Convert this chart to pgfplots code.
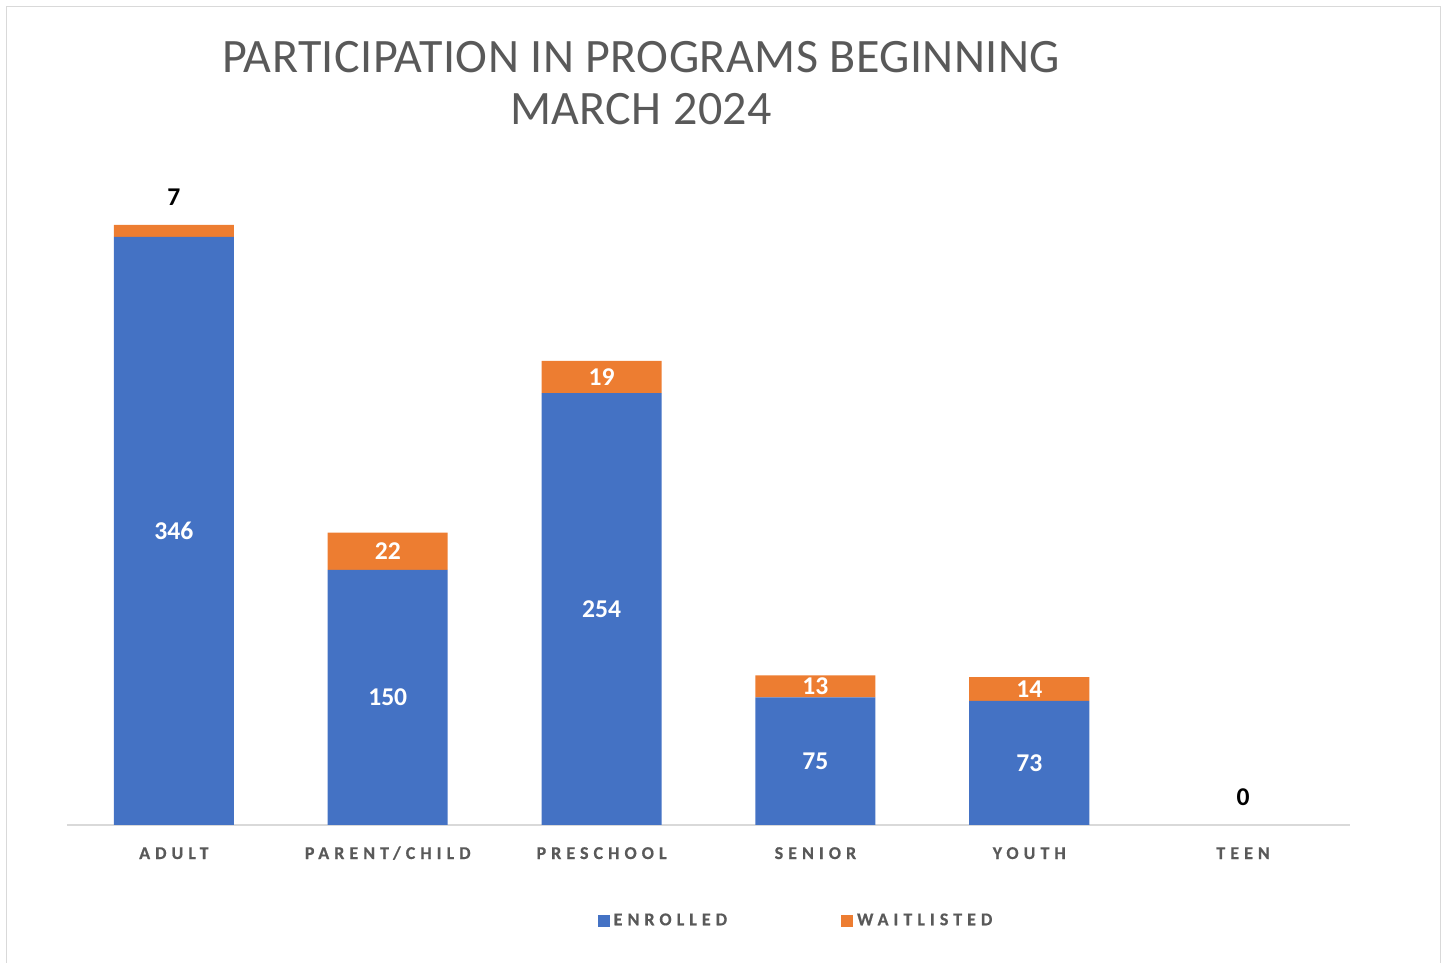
\documentclass[border=0pt]{standalone}
\usepackage{fontspec}
\setmainfont{Carlito}
\newfontfamily\spacedfont[LetterSpace=28, FakeBold=0.6]{Carlito Bold}
\newfontfamily\titlefont[LetterSpace=1]{Carlito}
\usepackage{pgfplots}
\usepackage{pgfplotstable}
\pgfplotsset{compat=1.18}

\definecolor{enrolled}{HTML}{4472C4}
\definecolor{waitlisted}{HTML}{ED7D31}
\definecolor{txtgrey}{HTML}{595959}
\definecolor{linegrey}{HTML}{D9D9D9}

% program, enrolled, waitlisted
\pgfplotstableread{
x enrolled waitlisted
0 346 7
1 150 22
2 254 19
3 75 13
4 73 14
5 0 0
}\participation

\pgfplotsset{samebox/.style={at={(0,0)}, anchor=south west,
  scale only axis, width=641.5pt, height=340pt,
  xmin=-0.5, xmax=5.5, ymin=0, ymax=400}}

\begin{document}
\begin{tikzpicture}
\useasboundingbox (-33.5pt,-69pt) rectangle (689pt,412.5pt);
\draw[linegrey, line width=0.5pt] (-30pt,-69pt) -- (-30pt,409pt) -- (686.5pt,409pt) -- (686.5pt,-69pt);

\begin{axis}[
  samebox,
  ybar stacked, bar width=60pt,
  axis x line*=bottom, axis y line=none,
  x axis line style={draw=linegrey, line width=0.8pt, -},
  xtick=data,
  xticklabels={ADULT, PARENT/CHILD, PRESCHOOL, SENIOR, YOUTH, TEEN},
  major tick length=0pt,
  xticklabel style={font=\spacedfont\fontsize{9}{11}\selectfont, text=txtgrey, anchor=base, yshift=-17pt},
  /pgf/number format/assume math mode=true,
  visualization depends on={rawy \as \rawy},
  visualization depends on={ifthenelse(rawy<10,16.5+rawy/2,0) \as \labshift},
  visualization depends on={ifthenelse(rawy<10,1,0) \as \labdark},
  nodes near coords={\ifdim\labdark pt>0.5pt\color{black}\else\color{white}\fi\pgfmathprintnumber{\rawy}},
  every node near coord/.append style={anchor=center, font=\bfseries\fontsize{12.8}{14}\selectfont, shift={(axis direction cs:0,\labshift)}},
  legend columns=-1,
  legend style={at={(0.569,-0.141)}, anchor=center, draw=none, fill=none,
    font=\spacedfont\fontsize{9}{11}\selectfont, text=txtgrey,
    /tikz/every even column/.append style={column sep=55pt}},
  legend image code/.code={\fill[#1] (0pt,-3pt) rectangle (6pt,3pt);},
]
\addplot[fill=enrolled, draw=none] table[x=x, y=enrolled] {\participation};
\addplot[fill=waitlisted, draw=none] table[x=x, y=waitlisted] {\participation};
\legend{ENROLLED, WAITLISTED}
\end{axis}

% label of the empty TEEN bar (not drawn by the stacked plot)
\begin{axis}[
  samebox, hide axis,
  /pgf/number format/assume math mode=true,
  nodes near coords,
  every node near coord/.append style={anchor=center, text=black, font=\bfseries\fontsize{12.8}{14}\selectfont, yshift=14pt},
]
\addplot[draw=none, mark=none, point meta=y] coordinates {(5,0)};
\end{axis}

\node[anchor=base, text=txtgrey, font=\titlefont\fontsize{24}{26}\selectfont] at (287pt,376pt) {PARTICIPATION IN PROGRAMS BEGINNING};
\node[anchor=base, text=txtgrey, font=\titlefont\fontsize{24}{26}\selectfont] at (287pt,350pt) {MARCH 2024};
\end{tikzpicture}
\end{document}
